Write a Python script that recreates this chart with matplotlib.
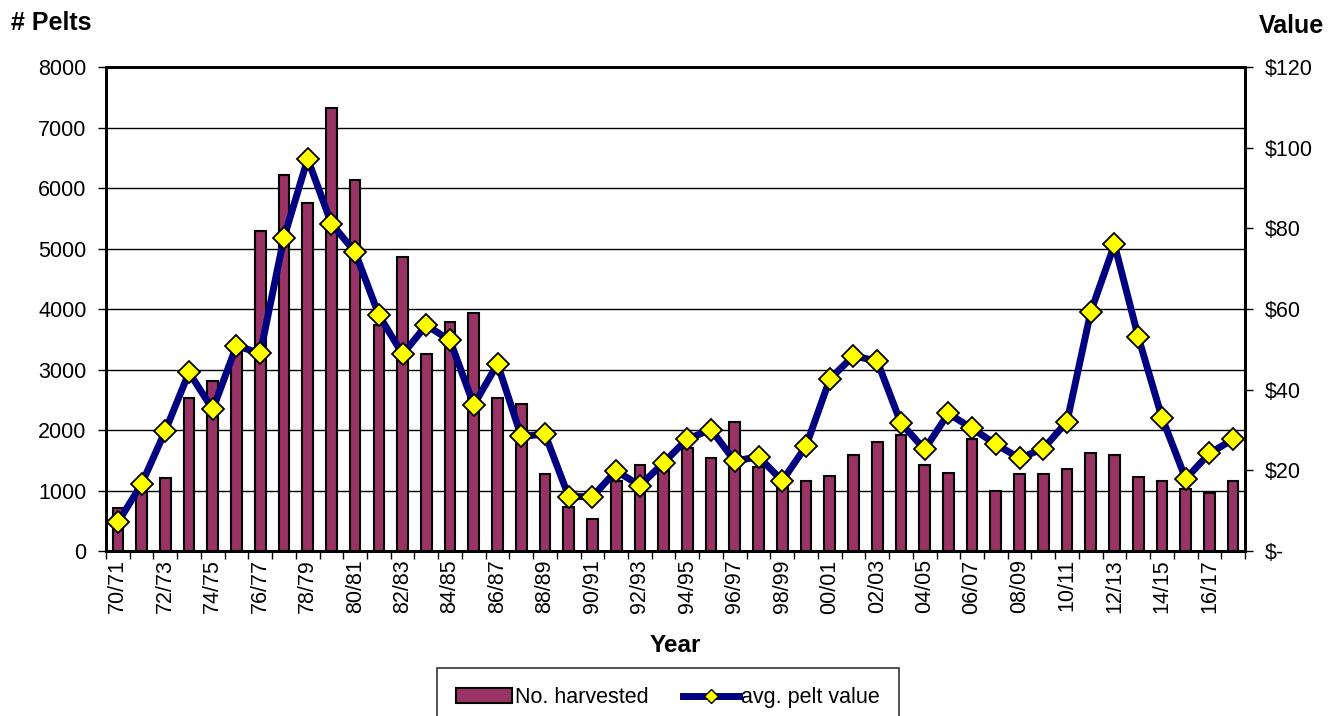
import matplotlib.pyplot as plt
from matplotlib.lines import Line2D
import numpy as np

plt.rcParams['font.family'] = ['Liberation Sans', 'DejaVu Sans']

years = ['70/71', '71/72', '72/73', '73/74', '74/75', '75/76', '76/77', '77/78',
         '78/79', '79/80', '80/81', '81/82', '82/83', '83/84', '84/85', '85/86',
         '86/87', '87/88', '88/89', '89/90', '90/91', '91/92', '92/93', '93/94',
         '94/95', '95/96', '96/97', '97/98', '98/99', '99/00', '00/01', '01/02',
         '02/03', '03/04', '04/05', '05/06', '06/07', '07/08', '08/09', '09/10',
         '10/11', '11/12', '12/13', '13/14', '14/15', '15/16', '16/17', '17/18']

harvested = [705, 1080, 1200, 2525, 2815, 3360, 5295, 6220,
             5745, 7315, 6140, 3735, 4865, 3250, 3790, 3930,
             2535, 2430, 1270, 730, 525, 1155, 1420, 1480,
             1710, 1535, 2140, 1395, 1160, 1160, 1245, 1580,
             1800, 1910, 1425, 1295, 1850, 990, 1270, 1265,
             1360, 1615, 1585, 1220, 1160, 1020, 965, 1160]

pelt_value = [7.1, 16.6, 29.8, 44.3, 35.1, 50.9, 49.0, 77.7,
              97.2, 81.2, 74.1, 58.5, 48.8, 56.0, 52.2, 36.2,
              46.4, 28.4, 29.0, 13.5, 13.5, 19.9, 16.2, 21.9,
              27.8, 30.1, 22.3, 23.4, 17.4, 26.0, 42.6, 48.4,
              47.1, 31.7, 25.2, 34.1, 30.4, 26.5, 23.0, 25.4,
              32.1, 59.3, 76.0, 53.1, 33.1, 17.9, 24.2, 27.7]

x = np.arange(len(years))

fig = plt.figure(figsize=(13.28, 7.16), dpi=100)
ax = fig.add_axes([0.0798, 0.2304, 0.8577, 0.676])
ax2 = ax.twinx()

bars = ax.bar(x, harvested, width=0.45, color='#993366', edgecolor='black',
              linewidth=1.5, label='No. harvested', zorder=2)
ax2.plot(x, pelt_value, color='#000080', linewidth=5, marker='D',
         markersize=11, markerfacecolor='#FFFF00', markeredgecolor='black',
         markeredgewidth=1.3, zorder=3)

ax.set_xlim(-0.5, len(years) - 0.5)
ax.set_ylim(0, 8000)
ax.set_yticks(np.arange(0, 8001, 1000))
ax.yaxis.grid(True, color='black', linewidth=1)
ax.set_axisbelow(True)

ax2.set_ylim(0, 120)
ax2.set_yticks(np.arange(0, 121, 20))
ax2.set_yticklabels(['$-'] + ['$%d' % v for v in range(20, 121, 20)])

ax.set_xticks(x)
ax.set_xticklabels([y if i % 2 == 0 else '' for i, y in enumerate(years)],
                   rotation=90, fontsize=15.5)
ax.set_xticks(np.arange(-0.5, len(years), 1), minor=True)
ax.tick_params(axis='x', which='major', length=0, pad=6)
ax.tick_params(axis='x', which='minor', length=6, width=1, direction='out')
ax.tick_params(axis='y', labelsize=15.5, length=6, width=1, direction='out', pad=8)
ax2.tick_params(axis='y', labelsize=15.5, length=6, width=1, direction='out', pad=8)

for a in (ax, ax2):
    for s in a.spines.values():
        s.set_linewidth(2)

ax.set_xlabel('Year', fontsize=17.5, fontweight='bold', labelpad=15)
fig.text(0.008, 0.968, '# Pelts', fontsize=18, fontweight='bold', ha='left', va='center')
fig.text(0.997, 0.963, 'Value', fontsize=18, fontweight='bold', ha='right', va='center')

# legend proxy with a smaller diamond
line_handle = Line2D([], [], color='#000080', linewidth=5, marker='D', markersize=7,
                     markerfacecolor='#FFFF00', markeredgecolor='black', markeredgewidth=1)
leg = fig.legend([bars, line_handle], ['No. harvested', 'avg. pelt value'],
                 loc='upper center', bbox_to_anchor=(0.503, 0.067), ncol=2,
                 fontsize=15.5, frameon=True, fancybox=False, edgecolor='black',
                 borderpad=0.9, handlelength=2.6, columnspacing=1.6, handletextpad=0.1,
                 borderaxespad=0.0)
leg.get_frame().set_linewidth(1.2)

fig.savefig('out.png', dpi=100)
